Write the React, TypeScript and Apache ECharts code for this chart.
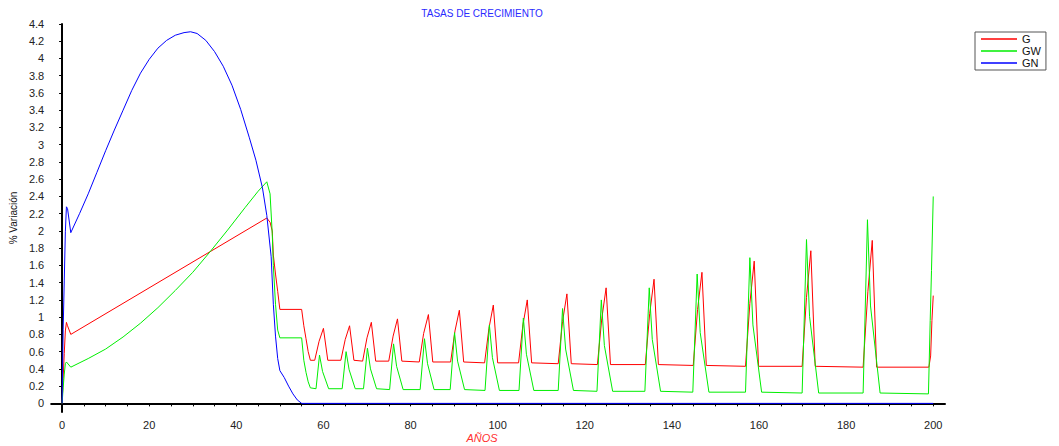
import React, { useEffect, useRef } from "react";
import * as echarts from "echarts";

const TITLE = "TASAS DE CRECIMIENTO";
const X_NAME = "AÑOS";
const Y_NAME = "% Variación";
const SERIES_NAMES = ["G", "GW", "GN"];

const X_LABELS = [0, 20, 40, 60, 80, 100, 120, 140, 160, 180, 200];
const X_TICKS = [
  0, 5, 10, 15, 20, 25, 30, 35, 40, 45, 50, 55, 60, 65, 70, 75, 80, 85, 90, 95, 100,
  105, 110, 115, 120, 125, 130, 135, 140, 145, 150, 155, 160, 165, 170, 175, 180, 185, 190, 195, 200,
];
const Y_TICKS = [0, 0.2, 0.4, 0.6, 0.8, 1, 1.2, 1.4, 1.6, 1.8, 2, 2.2, 2.4, 2.6, 2.8, 3, 3.2, 3.4, 3.6, 3.8, 4, 4.2, 4.4];

// G (red)
const G_START: [number, number][] = [
  [0, 0], [0.25, 0.29], [0.5, 0.58], [0.75, 0.84], [1, 0.94], [1.25, 0.9], [2, 0.8],
  [47, 2.15], [47.75, 2.1], [48.25, 2.0], [48.5, 1.72], [49, 1.5], [49.5, 1.3], [50, 1.09],
  [55, 1.09], [55.5, 0.9], [56, 0.75], [56.5, 0.6], [57, 0.5],
];
const G_CYCLES: [number, number][] = [
  [58, 0.5], [59, 0.72], [60, 0.87], [61, 0.5],
  [64, 0.5], [65, 0.74], [66, 0.9], [67, 0.5],
  [69, 0.49], [70, 0.76], [71, 0.94], [72, 0.49],
  [75, 0.49], [76, 0.78], [77, 0.98], [78, 0.49],
  [82, 0.48], [83, 0.81], [84.1, 1.03], [85.1, 0.48],
  [89.2, 0.48], [90.2, 0.84], [91.2, 1.08], [92.2, 0.48],
  [97, 0.47], [98, 0.87], [99, 1.14], [100, 0.47],
  [104.8, 0.47], [105.8, 0.91], [106.8, 1.2], [107.8, 0.47],
  [113.9, 0.46], [114.9, 0.95], [115.9, 1.27], [116.9, 0.46],
  [122.9, 0.45], [123.9, 0.98], [124.9, 1.34], [125.9, 0.45],
  [133.9, 0.45], [134.9, 1.04], [135.9, 1.44], [136.9, 0.45],
  [144.9, 0.44], [145.9, 1.09], [146.9, 1.52], [147.9, 0.44],
  [156.9, 0.43], [157.9, 1.16], [158.9, 1.65], [159.9, 0.43],
  [169.9, 0.43], [170.9, 1.23], [171.9, 1.77], [172.9, 0.43],
  [183.9, 0.42], [185, 1.3], [186, 1.89], [187, 0.42],
  [199, 0.42], [199.4, 0.55], [199.7, 0.96], [200, 1.25],
];

// GW (green)
const GW_START: [number, number][] = [
  [0, 0], [0.25, 0.18], [0.5, 0.34], [0.75, 0.46], [1, 0.48], [2, 0.42],
  [6, 0.52], [10, 0.63], [14, 0.77], [18, 0.93], [22, 1.11], [26, 1.31], [30, 1.52],
  [34, 1.76], [38, 2.01], [42, 2.27], [45, 2.46], [47, 2.57],
  [47.75, 2.43], [48.25, 1.97], [48.5, 1.6], [49, 1.15], [49.5, 0.85], [50, 0.76],
  [55, 0.76], [55.5, 0.5], [56, 0.36], [56.5, 0.25], [57, 0.18],
];
const GW_CYCLES: [number, number][] = [
  [58.3, 0.17], [59.1, 0.56], [59.8, 0.37], [61.2, 0.17],
  [64.3, 0.17], [65.2, 0.6], [65.9, 0.39], [67.3, 0.17],
  [69.2, 0.17], [70.1, 0.64], [70.8, 0.4], [72.2, 0.17],
  [75.2, 0.16], [76.1, 0.69], [76.8, 0.43], [78.3, 0.16],
  [82.2, 0.16], [83.2, 0.75], [83.9, 0.46], [85.4, 0.16],
  [89.1, 0.16], [90.1, 0.82], [90.8, 0.49], [92.4, 0.16],
  [97.1, 0.15], [98.1, 0.91], [98.8, 0.53], [100.4, 0.15],
  [104.9, 0.15], [105.9, 0.99], [106.6, 0.57], [108.3, 0.15],
  [113.9, 0.15], [114.9, 1.1], [115.6, 0.63], [117.4, 0.15],
  [122.8, 0.14], [123.8, 1.2], [124.5, 0.67], [126.4, 0.14],
  [133.8, 0.14], [134.8, 1.34], [135.5, 0.74], [137.4, 0.14],
  [144.8, 0.13], [145.8, 1.5], [146.5, 0.82], [148.5, 0.13],
  [156.9, 0.13], [157.9, 1.69], [158.6, 0.91], [160.6, 0.13],
  [169.9, 0.12], [170.9, 1.9], [171.6, 1.01], [173.7, 0.12],
  [183.9, 0.12], [184.9, 2.13], [185.6, 1.13], [187.8, 0.12],
  [198.9, 0.11], [199.3, 0.96], [199.6, 1.54], [200, 2.4],
];

// GN (blue)
const GN_DATA: [number, number][] = [
  [0, 0], [0.25, 0.86], [0.5, 1.42], [0.75, 1.99], [1, 2.28], [1.25, 2.26], [2, 1.98],
  [4, 2.2], [6, 2.43], [8, 2.68], [10, 2.93], [12, 3.17], [14, 3.4], [16, 3.63],
  [18, 3.83], [20, 3.99], [22, 4.12], [24, 4.21], [26, 4.27], [28, 4.3], [29.5, 4.31],
  [31, 4.29], [33, 4.21], [35, 4.08], [37, 3.91], [39, 3.69], [41, 3.41], [43, 3.08],
  [44.5, 2.82], [46, 2.5], [47, 2.18], [48, 1.7], [48.5, 1.15], [49, 0.78],
  [49.5, 0.52], [50, 0.38], [51, 0.3], [52, 0.2], [53, 0.11], [54, 0.04], [55, 0],
  [200, 0],
];

const COLORS = ["#ff0000", "#00ee00", "#0000ff"];
const FONT = "Liberation Sans, Arial, sans-serif";

export default function App() {
  const ref = useRef<HTMLDivElement>(null);
  useEffect(() => {
    if (!ref.current) return;
    const chart = echarts.init(ref.current, undefined, { renderer: "svg" });
    const lineSeries = (name: string, data: [number, number][], color: string) => ({
      name,
      type: "line",
      data,
      symbol: "none",
      showSymbol: false,
      lineStyle: { color, width: 1 },
      itemStyle: { color },
      silent: true,
    });
    chart.setOption({
      animation: false,
      backgroundColor: "#ffffff",
      textStyle: { fontFamily: FONT },
      title: [
        {
          text: TITLE,
          left: 477,
          top: 3,
          textAlign: "center",
          textStyle: { color: "#2a2aff", fontSize: 10, fontWeight: "normal", fontFamily: FONT },
        },
        {
          text: X_NAME,
          left: 477,
          top: 427,
          textAlign: "center",
          textStyle: { color: "#ff3030", fontSize: 11, fontStyle: "italic", fontWeight: "normal", fontFamily: FONT },
        },
      ],
      legend: {
        orient: "vertical",
        left: 975,
        top: 32,
        padding: [1, 5, 1, 6],
        itemGap: 0,
        itemWidth: 36,
        itemHeight: 1.5,
        icon: "rect",
        borderColor: "#555555",
        borderWidth: 1,
        data: SERIES_NAMES,
        textStyle: { fontSize: 11, color: "#111111", lineHeight: 12, fontFamily: FONT, padding: [0, 0, 0, 0] },
      },
      grid: { left: 50, right: 114, top: 24, bottom: 34, containLabel: false },
      xAxis: {
        type: "value",
        min: -2.5,
        max: 202.7,
        axisLine: { show: true, lineStyle: { color: "#000000", width: 2 } },
        axisTick: { show: true, customValues: X_TICKS, length: 3, lineStyle: { color: "#000000", width: 1 } },
        axisLabel: { customValues: X_LABELS, margin: 7, fontSize: 11, color: "#222222", fontFamily: FONT },
        splitLine: { show: false },
      },
      yAxis: {
        type: "value",
        min: -0.1,
        max: 4.4,
        name: Y_NAME,
        nameLocation: "middle",
        nameRotate: 90,
        nameGap: 30,
        nameTextStyle: { fontSize: 10, color: "#111111", fontFamily: FONT },
        axisLine: { show: true, lineStyle: { color: "#000000", width: 2 } },
        axisTick: { show: true, customValues: Y_TICKS, length: 3, lineStyle: { color: "#000000", width: 1 } },
        axisLabel: { customValues: Y_TICKS, margin: 7, fontSize: 11, color: "#222222", fontFamily: FONT },
        splitLine: { show: false },
      },
      series: [
        lineSeries(SERIES_NAMES[0], [...G_START, ...G_CYCLES], COLORS[0]),
        lineSeries(SERIES_NAMES[1], [...GW_START, ...GW_CYCLES], COLORS[1]),
        lineSeries(SERIES_NAMES[2], GN_DATA, COLORS[2]),
      ],
    });
    return () => chart.dispose();
  }, []);
  return (
    <div
      ref={ref}
      style={{ position: "fixed", left: 0, top: 0, width: 1059, height: 446, background: "#fff" }}
    />
  );
}
